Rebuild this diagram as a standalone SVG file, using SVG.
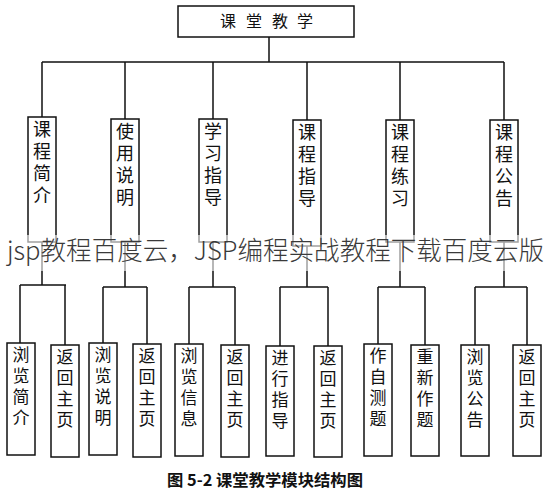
<svg xmlns="http://www.w3.org/2000/svg" width="556" height="490" viewBox="0 0 556 490">
<style>
.box{fill:#fff;stroke:#111;stroke-width:1.5}
.ln{fill:none;stroke:#111;stroke-width:1.5}
.t{font-family:"Noto Sans CJK SC","Liberation Sans",sans-serif;fill:#111}
.v{writing-mode:vertical-rl;text-orientation:upright;text-anchor:start}
.l2{font-size:18px;letter-spacing:4px}
.l3{font-size:17px;letter-spacing:4px}
.wm{font-family:"Noto Sans CJK SC","Liberation Sans",sans-serif;font-size:26px;fill:#3a3a3a;font-weight:300}
.cap{font-family:"Noto Sans CJK SC","Liberation Sans",sans-serif;font-size:16px;font-weight:bold;fill:#111}
</style>
<rect width="556" height="490" fill="#fff"/>
<g id="connectors">
<path class="ln" d="M269 37V62M42 62H504M42 62V117M125 62V119M213 62V119M307 62V120M400 62V120M504 62V120"/>
<path class="ln" d="M42 242V285M20 285H66M20 285V343M65 285V345"/>
<path class="ln" d="M125 242V287M103 287H147M103 287V343M147 287V344"/>
<path class="ln" d="M213 242V287M189 287H235M189 287V344M235 287V345"/>
<path class="ln" d="M307 246V287M280 287H328M280 287V346M328 287V346"/>
<path class="ln" d="M400 242V287M378 287H425M378 287V344M425 287V345"/>
<path class="ln" d="M504 242V287M475 287H527M475 287V345M527 287V345"/>
</g>
<g id="n0"><rect class="box" x="178" y="6" width="176" height="31"/>
<text class="t" style="font-size:16px;text-anchor:middle" x="228 254 280 305" y="27">课堂教学</text></g>

<g id="n1"><rect class="box" x="28" y="117" width="28" height="125"/>
<text class="t v l2" x="42" y="120">课程简介</text></g>
<g id="n2"><rect class="box" x="111" y="119" width="28" height="123"/>
<text class="t v l2" x="125" y="122">使用说明</text></g>
<g id="n3"><rect class="box" x="199" y="119" width="28" height="123"/>
<text class="t v l2" x="213" y="122">学习指导</text></g>
<g id="n4"><rect class="box" x="293" y="120" width="28" height="126"/>
<text class="t v l2" x="307" y="123">课程指导</text></g>
<g id="n5"><rect class="box" x="386" y="120" width="28" height="122"/>
<text class="t v l2" x="400" y="123">课程练习</text></g>
<g id="n6"><rect class="box" x="490" y="120" width="28" height="122"/>
<text class="t v l2" x="504" y="123">课程公告</text></g>

<g id="n11"><rect class="box" x="7" y="343" width="28" height="112"/>
<text class="t v l3" x="21" y="346">浏览简介</text></g>
<g id="n12"><rect class="box" x="51" y="345" width="28" height="112"/>
<text class="t v l3" x="65" y="348">返回主页</text></g>
<g id="n21"><rect class="box" x="89" y="343" width="28" height="112"/>
<text class="t v l3" x="103" y="346">浏览说明</text></g>
<g id="n22"><rect class="box" x="133" y="344" width="28" height="113"/>
<text class="t v l3" x="147" y="347">返回主页</text></g>
<g id="n31"><rect class="box" x="175" y="344" width="28" height="112"/>
<text class="t v l3" x="189" y="347">浏览信息</text></g>
<g id="n32"><rect class="box" x="221" y="345" width="28" height="112"/>
<text class="t v l3" x="235" y="348">返回主页</text></g>
<g id="n41"><rect class="box" x="266" y="346" width="28" height="110"/>
<text class="t v l3" x="280" y="349">进行指导</text></g>
<g id="n42"><rect class="box" x="314" y="346" width="28" height="111"/>
<text class="t v l3" x="328" y="349">返回主页</text></g>
<g id="n51"><rect class="box" x="364" y="344" width="28" height="112"/>
<text class="t v l3" x="378" y="347">作自测题</text></g>
<g id="n52"><rect class="box" x="411" y="345" width="28" height="111"/>
<text class="t v l3" x="425" y="348">重新作题</text></g>
<g id="n61"><rect class="box" x="461" y="345" width="28" height="111"/>
<text class="t v l3" x="475" y="348">浏览公告</text></g>
<g id="n62"><rect class="box" x="513" y="345" width="28" height="111"/>
<text class="t v l3" x="527" y="348">返回主页</text></g>

<rect x="0" y="235" width="556" height="36" fill="#fff" fill-opacity="0.6"/>
<text class="wm" x="7" y="260" textLength="537" lengthAdjust="spacingAndGlyphs">jsp教程百度云，JSP编程实战教程下载百度云版</text>
<text class="cap" x="167" y="486" textLength="196" lengthAdjust="spacingAndGlyphs">图 5-2 课堂教学模块结构图</text>
</svg>
